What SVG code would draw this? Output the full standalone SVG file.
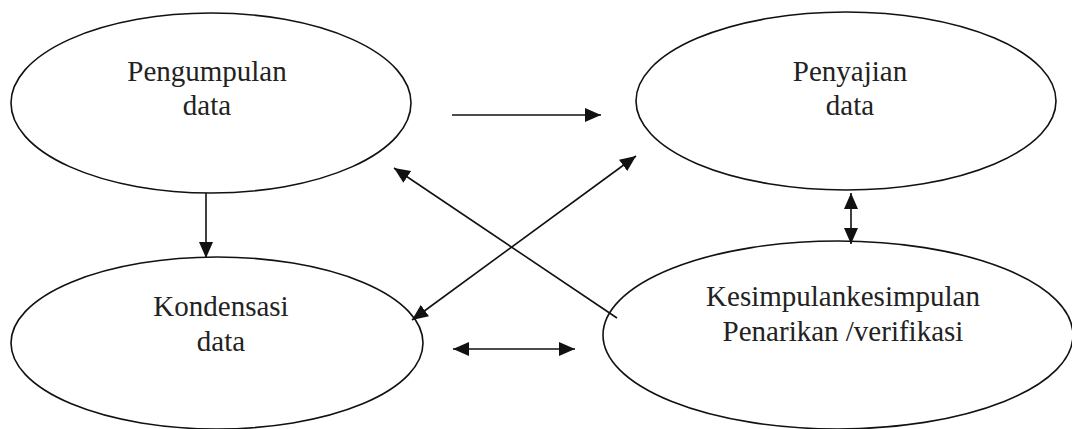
<svg xmlns="http://www.w3.org/2000/svg" width="1072" height="429" viewBox="0 0 1072 429">
<defs>
<style>
.node ellipse{fill:none;stroke:#111;stroke-width:1.6}
.node text{font-family:"Liberation Serif","Times New Roman",serif;font-size:29px;fill:#222;text-anchor:middle}
#connectors line{stroke:#111;stroke-width:1.6;fill:none}
</style>
<marker id="ah" viewBox="0 0 16 16" refX="16" refY="8" markerWidth="16" markerHeight="16" markerUnits="userSpaceOnUse" orient="auto-start-reverse">
<path d="M0,1 L16,8 L0,15 z" fill="#111"/>
</marker>
</defs>
<rect width="1072" height="429" fill="#fff"/>
<g id="n-pengumpulan" class="node" font-family="Liberation Serif, serif">
<ellipse cx="211" cy="103" rx="200" ry="90"/>
<text x="207" y="81">Pengumpulan</text>
<text x="207" y="115">data</text>
</g>
<g id="n-penyajian" class="node" font-family="Liberation Serif, serif">
<ellipse cx="846" cy="101" rx="210" ry="89"/>
<text x="850" y="81">Penyajian</text>
<text x="850" y="115">data</text>
</g>
<g id="n-kondensasi" class="node" font-family="Liberation Serif, serif">
<ellipse cx="217" cy="343" rx="206" ry="86"/>
<text x="221" y="316">Kondensasi</text>
<text x="221" y="351">data</text>
</g>
<g id="n-kesimpulan" class="node" font-family="Liberation Serif, serif">
<ellipse cx="838" cy="335" rx="235" ry="94"/>
<text x="843" y="306">Kesimpulankesimpulan</text>
<text x="843" y="341">Penarikan /verifikasi</text>
</g>
<g id="connectors">
<line x1="452" y1="115" x2="601" y2="115" marker-end="url(#ah)"/>
<line x1="206" y1="193" x2="206" y2="258" marker-end="url(#ah)"/>
<line x1="617" y1="318" x2="394" y2="168" marker-end="url(#ah)"/>
<line x1="412" y1="320" x2="636" y2="156" marker-start="url(#ah)" marker-end="url(#ah)"/>
<line x1="453" y1="349" x2="575" y2="349" marker-start="url(#ah)" marker-end="url(#ah)"/>
<line x1="851" y1="193" x2="851" y2="244" marker-start="url(#ah)" marker-end="url(#ah)"/>
</g>
</svg>
